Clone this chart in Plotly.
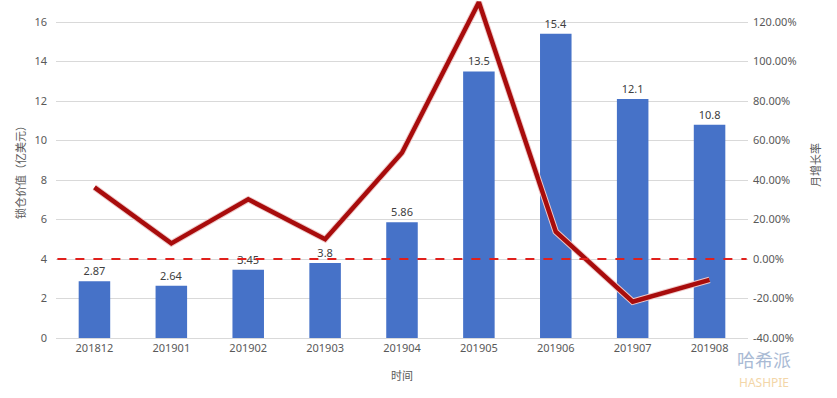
import plotly.graph_objects as go

months = ["201812", "201901", "201902", "201903", "201904", "201905", "201906", "201907", "201908"]
locked_value = [2.87, 2.64, 3.45, 3.8, 5.86, 13.5, 15.4, 12.1, 10.8]
value_labels = ["2.87", "2.64", "3.45", "3.8", "5.86", "13.5", "15.4", "12.1", "10.8"]
monthly_growth = [36.3, 7.9, 30.2, 10.0, 53.8, 130.0, 13.8, -21.6, -10.6]

left_ticks = [0, 2, 4, 6, 8, 10, 12, 14, 16]
right_ticks = [-40, -20, 0, 20, 40, 60, 80, 100, 120]
right_tick_labels = [f"{v:.2f}%" for v in right_ticks]

FONT = "Noto Sans, Noto Sans CJK SC, sans-serif"
GRAY = "#595959"

L, R, T, B = 56, 89, 0, 60
W, H = 837, 398
PW, PH = W - L - R, H - T - B


def px_x(p):
    return (p - L) / PW


def px_y(p):
    return (H - B - p) / PH


fig = go.Figure()
fig.add_trace(go.Bar(
    x=months, y=locked_value, width=0.41,
    marker=dict(color="#4672C8", line=dict(width=0)),
    text=value_labels, textposition="outside", cliponaxis=False,
    textfont=dict(size=11, color="#404040", family=FONT),
    showlegend=False,
))
fig.add_trace(go.Scatter(
    x=months, y=monthly_growth, yaxis="y2", mode="lines",
    line=dict(color="#EFCACA", width=6.5), showlegend=False, hoverinfo="skip",
))
fig.add_trace(go.Scatter(
    x=months, y=monthly_growth, yaxis="y2", mode="lines",
    line=dict(color="#A80C0C", width=4.5), showlegend=False,
))

fig.add_shape(type="line", xref="paper", yref="y2", x0=0.002, x1=0.998, y0=0, y1=0,
              line=dict(color="#E0201C", width=2, dash="dash"))

top_frac = 338 / 316
fig.update_layout(
    width=W, height=H,
    margin=dict(l=L, r=R, t=T, b=B, autoexpand=False),
    paper_bgcolor="white", plot_bgcolor="white",
    font=dict(family=FONT, size=11, color=GRAY),
    xaxis=dict(
        automargin=False, showgrid=False, showline=True, linecolor="#D9D9D9", ticks="",
        tickfont=dict(size=11, color=GRAY),
    ),
    yaxis=dict(
        automargin=False,
        range=[0, 16 * top_frac], tickvals=left_ticks, ticktext=[str(v) for v in left_ticks],
        showgrid=True, gridcolor="#D9D9D9", gridwidth=1, zeroline=False,
        tickfont=dict(size=11, color=GRAY), ticklabelstandoff=8,
    ),
    yaxis2=dict(
        automargin=False,
        overlaying="y", side="right",
        range=[-40, -40 + 160 * top_frac], tickvals=right_ticks, ticktext=right_tick_labels,
        showgrid=False, zeroline=False,
        tickfont=dict(size=11, color=GRAY), ticklabelstandoff=4,
    ),
    annotations=[
        dict(text="时间", xref="paper", yref="paper", x=px_x(402), y=px_y(375),
             xanchor="center", yanchor="middle", showarrow=False,
             font=dict(size=11, color=GRAY)),
        dict(text="锁仓价值（亿美元）", xref="paper", yref="paper", x=px_x(20), y=px_y(170),
             xanchor="center", yanchor="middle", textangle=-90, showarrow=False,
             font=dict(size=11, color=GRAY)),
        dict(text="月增长率", xref="paper", yref="paper", x=px_x(815), y=px_y(165),
             xanchor="center", yanchor="middle", textangle=-90, showarrow=False,
             font=dict(size=11, color=GRAY)),
        dict(text="哈希派", xref="paper", yref="paper", x=px_x(735), y=px_y(360),
             xanchor="left", yanchor="middle", showarrow=False,
             font=dict(size=18, color="#A9BAD4", family=FONT)),
        dict(text="HASHPIE", xref="paper", yref="paper", x=px_x(737), y=px_y(382),
             xanchor="left", yanchor="middle", showarrow=False,
             font=dict(size=12, color="#F3D6A8", family=FONT)),
    ],
)

fig.write_html(
    "out.html",
    config={"displayModeBar": False},
    post_script="document.body.style.margin='0';document.body.style.overflow='hidden';",
)
